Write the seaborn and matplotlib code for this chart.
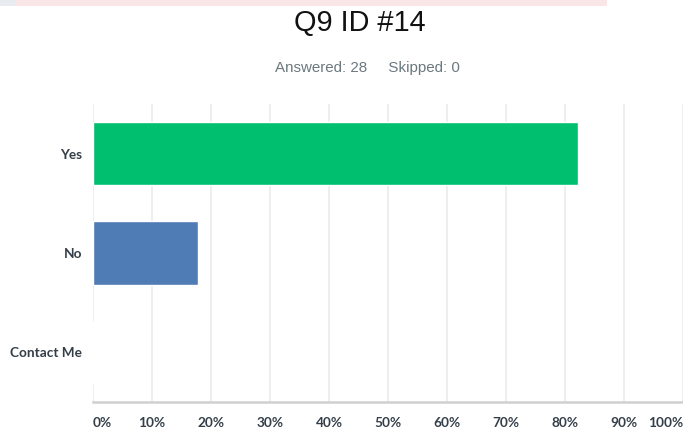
import matplotlib
matplotlib.use("Agg")
import matplotlib.pyplot as plt
import seaborn as sns
import pandas as pd
from matplotlib.patches import Rectangle

categories = ["Yes", "No", "Contact Me"]
percentages = [82.14, 17.86, 0.0]
bar_colors = ["#00bf6f", "#507cb6", "#a0a0a0"]
tick_values = [0, 10, 20, 30, 40, 50, 60, 70, 80, 90, 100]
tick_labels = ["0%", "10%", "20%", "30%", "40%", "50%", "60%", "70%", "80%", "90%", "100%"]
title = "Q9 ID #14"
subtitle = "Answered: 28     Skipped: 0"

sns.set_style("white")
df = pd.DataFrame({"category": categories, "pct": percentages})

fig = plt.figure(figsize=(6.83, 4.30), dpi=100)
ax = fig.add_axes([93/683, 28/430, 590/683, 298/430])

sns.barplot(data=df, x="pct", y="category", hue="category", palette=bar_colors,
            order=categories, hue_order=categories, legend=False, width=0.635,
            saturation=1, ax=ax, zorder=3)

ax.set_xlim(0, 100)
ax.set_ylim(2.5, -0.5)
ax.set_xticks(tick_values)
ax.set_xticklabels(tick_labels)
ax.set_xlabel("")
ax.set_ylabel("")
ax.grid(axis="x", color="#ebebeb", linewidth=1.2, zorder=0)
ax.grid(axis="y", visible=False)
for s in ["top", "right", "left"]:
    ax.spines[s].set_visible(False)
ax.spines["bottom"].set_color("#d0d0d0")
ax.spines["bottom"].set_linewidth(1.8)
ax.tick_params(axis="both", length=0)
ax.tick_params(axis="x", pad=11)
ax.tick_params(axis="y", pad=8)
for lab in ax.get_xticklabels() + ax.get_yticklabels():
    lab.set_family("Lato")
    lab.set_weight("bold")
    lab.set_color("#333e48")
    lab.set_fontsize(9.8)
xl = ax.get_xticklabels()
xl[0].set_ha("left")
xl[-1].set_ha("right")

fig.text(360/683, 1 - 23/430, title, ha="center", va="center", fontsize=20.8,
         family="Liberation Sans", color="#111111")
fig.text(367/683, 1 - 68/430, subtitle, ha="center", va="center", fontsize=10.9,
         family="Liberation Sans", color="#6b787f")

fig.patches.append(Rectangle((15/683, 1 - 6/430), 592/683, 6/430, transform=fig.transFigure,
                             facecolor="#fae6e6", edgecolor="none", zorder=0))
fig.patches.append(Rectangle((0, 1 - 6/430), 15/683, 6/430, transform=fig.transFigure,
                             facecolor="#e8ecf0", edgecolor="none", zorder=0))

fig.savefig("out.png", dpi=100)
